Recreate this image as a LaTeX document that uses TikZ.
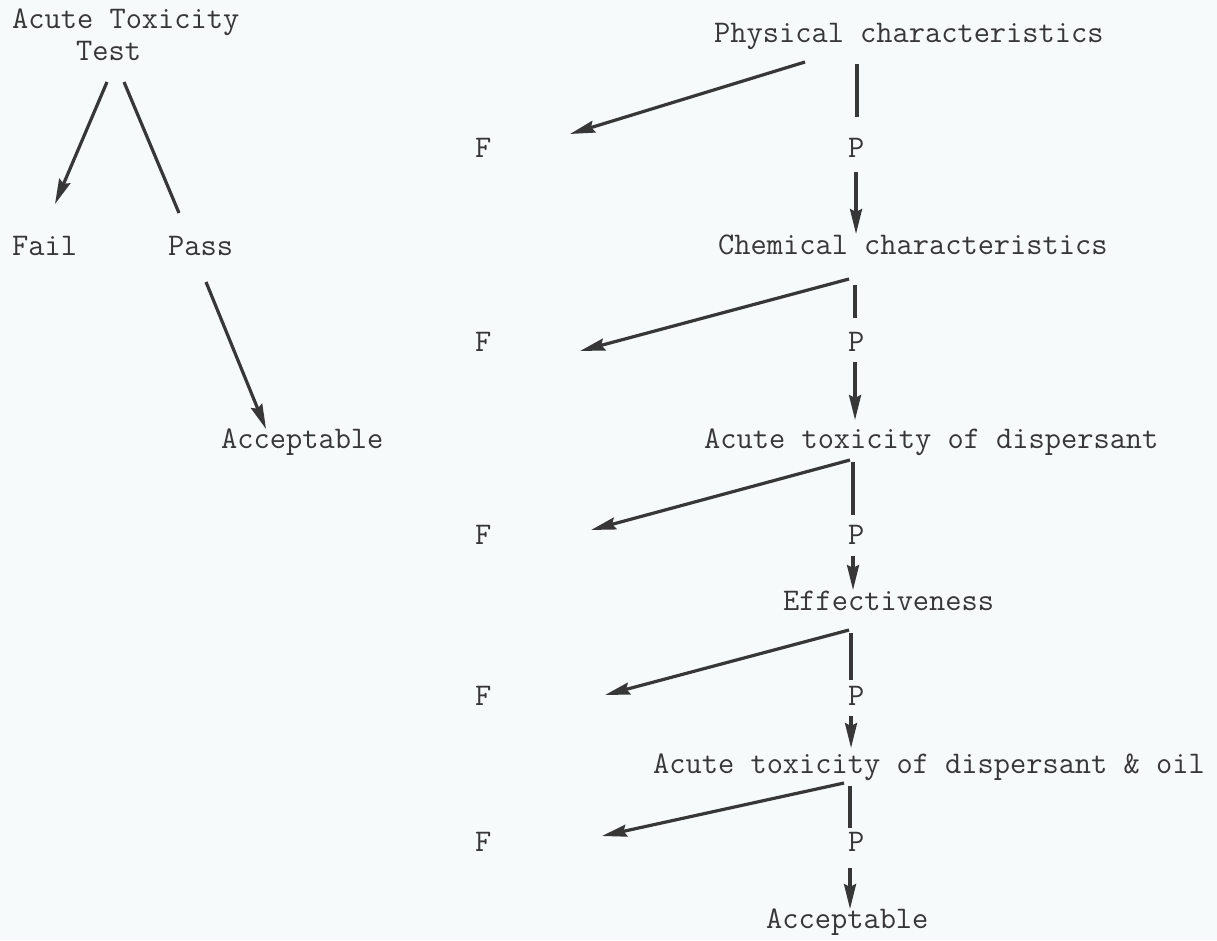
\documentclass[tikz,border=0pt]{standalone}
\usepackage{fontspec}
\usetikzlibrary{arrows.meta}
\definecolor{bg}{RGB}{246,250,250}
\definecolor{ink}{RGB}{55,55,55}
\tikzset{
  lbl/.style={anchor=base west, inner sep=0pt, text=ink, font=\ttfamily\fontsize{31.5}{34}\selectfont},
  conn/.style={draw=ink, line width=3.2pt},
  arr/.style={conn, -{Stealth[length=25pt,width=12pt,inset=3pt]}}
}
\begin{document}
\begin{tikzpicture}[x=1pt,y=-1pt]
\fill[bg] (0,0) rectangle (1217,940);
\useasboundingbox (0,0) rectangle (1217,940);
% left tree
\node[lbl] (att) at (12,28) {Acute Toxicity};
\node[lbl] (test) at (76,60) {Test};
\node[lbl] (fail) at (12,255) {Fail};
\node[lbl] (pass) at (168,255) {Pass};
\node[lbl] (accL) at (221,448) {Acceptable};
\coordinate (l1s) at (107,82); \coordinate (l1e) at (55,204);
\coordinate (l2s) at (124,82); \coordinate (l2e) at (179,213);
\coordinate (l3s) at (206,282); \coordinate (l3e) at (266,429);
\draw[arr] (l1s) -- (l1e);
\draw[conn] (l2s) -- (l2e);
\draw[arr] (l3s) -- (l3e);
% right chain
\node[lbl] (phys) at (714,42) {Physical characteristics};
\node[lbl] (chem) at (718,254) {Chemical characteristics};
\node[lbl] (atd) at (704,448) {Acute toxicity of dispersant};
\node[lbl] (eff) at (783,610) {Effectiveness};
\node[lbl] (ato) at (653,773) {Acute toxicity of dispersant \& oil};
\node[lbl] (accR) at (766,928) {Acceptable};
\foreach \i/\y in {1/157,2/351,3/544,4/705,5/851}{
  \node[lbl] (f\i) at (475,\y) {F};
  \node[lbl] (p\i) at (848,\y) {P};
}
% branch 1
\coordinate (d1s) at (805,62); \coordinate (d1e) at (570,134);
\coordinate (v1s) at (857,64); \coordinate (v1e) at (857,117);
\coordinate (a1s) at (856,172); \coordinate (a1e) at (856,234);
% branch 2
\coordinate (d2s) at (849,279); \coordinate (d2e) at (580,351);
\coordinate (v2s) at (855,285); \coordinate (v2e) at (855,318);
\coordinate (a2s) at (855,362); \coordinate (a2e) at (855,420);
% branch 3
\coordinate (d3s) at (850,460); \coordinate (d3e) at (591,530);
\coordinate (v3s) at (853,462); \coordinate (v3e) at (853,515);
\coordinate (a3s) at (853,556); \coordinate (a3e) at (853,590);
% branch 4
\coordinate (d4s) at (849,630); \coordinate (d4e) at (605,695);
\coordinate (v4s) at (851,633); \coordinate (v4e) at (851,680);
\coordinate (a4s) at (851,716); \coordinate (a4e) at (851,748);
% branch 5
\coordinate (d5s) at (844,783); \coordinate (d5e) at (602,836);
\coordinate (v5s) at (850,786); \coordinate (v5e) at (850,828);
\coordinate (a5s) at (850,868); \coordinate (a5e) at (850,909);
\foreach \i in {1,...,5}{
  \draw[arr] (d\i s) -- (d\i e);
  \draw[conn] (v\i s) -- (v\i e);
  \draw[arr] (a\i s) -- (a\i e);
}
\end{tikzpicture}
\end{document}
